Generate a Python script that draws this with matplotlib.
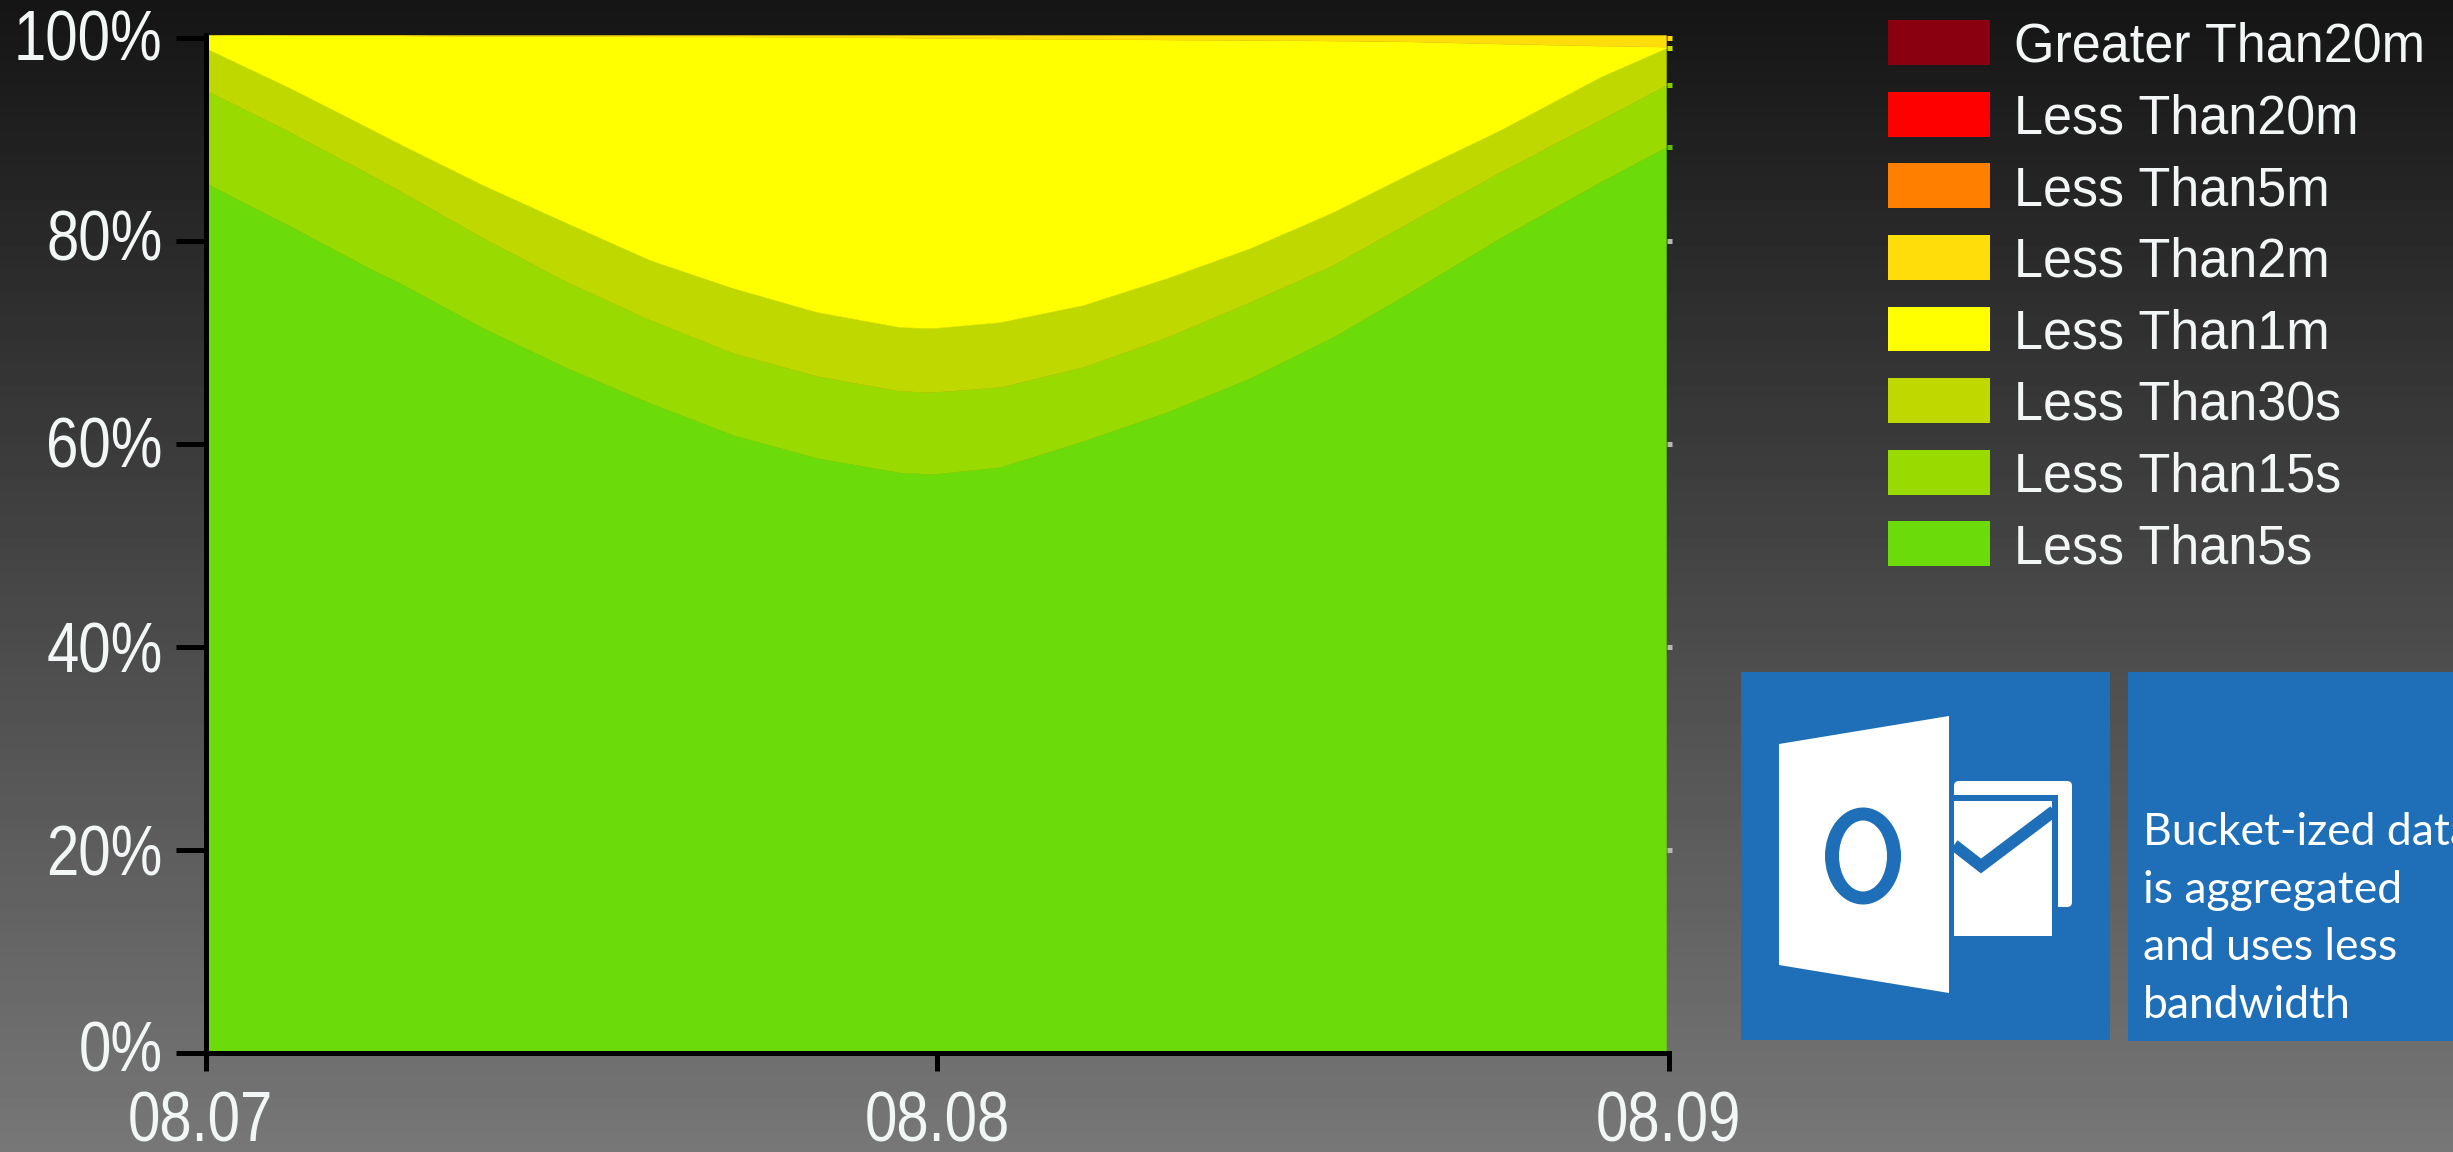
import numpy as np
import matplotlib
matplotlib.use("Agg")
import matplotlib.pyplot as plt
from matplotlib import font_manager as fm
from matplotlib.patches import Patch, Rectangle, Polygon, Ellipse, FancyBboxPatch
from matplotlib.transforms import ScaledTranslation
from fontTools.ttLib import TTFont

W, H, DPI = 2453, 1152, 100

# ---------- data ----------
dates = ["08.07", "08.08", "08.09"]
y_tick_labels = ["0%", "20%", "40%", "60%", "80%", "100%"]
series_names = ["Less Than5s", "Less Than15s", "Less Than30s", "Less Than1m",
                "Less Than2m", "Less Than5m", "Less Than20m", "Greater Than20m"]
series_colors = ["#6BDB0A", "#99DB00", "#BFD900", "#FFFF00",
                 "#FFDD0A", "#FF8000", "#FF0000", "#8B0011"]

x_days = [0.0, 0.1155, 0.2208, 0.2659, 0.3794, 0.4942, 0.6077, 0.7211, 0.8359, 0.9494,
          0.9945, 1.0861, 1.1996, 1.3144, 1.4279, 1.5413, 1.6562, 1.7696, 1.9063, 1.9966]
# cumulative upper edge of each band, percent
top_5s = [85.67, 81.43, 77.39, 75.81, 71.38, 67.44, 63.99, 60.84, 58.58, 57.14,
          57.00, 57.68, 60.25, 63.10, 66.45, 70.49, 75.32, 80.25, 85.76, 89.21]
top_15s = [94.83, 90.69, 86.65, 84.88, 80.25, 75.91, 72.17, 68.92, 66.65, 65.17,
           65.07, 65.57, 67.54, 70.49, 73.94, 77.59, 82.22, 86.75, 91.87, 95.32]
top_30s = [98.97, 95.03, 91.18, 89.51, 85.47, 81.72, 78.08, 75.32, 72.96, 71.48,
           71.38, 71.97, 73.65, 76.31, 79.26, 82.81, 86.95, 90.89, 96.11, 98.97]
top_1m = [100.25, 100.2, 100.2, 100.2, 100.15, 100.15, 100.1, 100.1, 100.05, 100.0,
          99.95, 99.9, 99.85, 99.8, 99.75, 99.7, 99.6, 99.4, 99.2, 99.1]
top_2m = [100.25] * 20
top_5m = [100.25] * 20
top_20m = [100.25] * 20
top_over20m = [100.25] * 20

tile_lines = ["Bucket-ized data", "is aggregated", "and uses less", "bandwidth"]


def narrowed_font(scale, family):
    """Write a horizontally condensed copy of Liberation Sans and register it."""
    src = fm.findfont("Liberation Sans")
    font = TTFont(src)
    glyf = font["glyf"]
    hmtx = font["hmtx"]
    for name in font.getGlyphOrder():
        g = glyf[name]
        if g.isComposite():
            for c in g.components:
                c.x = int(round(c.x * scale))
        elif g.numberOfContours > 0:
            coords = g.coordinates
            for i in range(len(coords)):
                coords[i] = (int(round(coords[i][0] * scale)), coords[i][1])
        adv, lsb = hmtx.metrics[name]
        hmtx.metrics[name] = (int(round(adv * scale)), int(round(lsb * scale)))
    for g_name in font.getGlyphOrder():
        glyf[g_name].recalcBounds(glyf)
    for tag in ("fpgm", "prep", "cvt ", "kern", "GPOS", "GSUB", "hdmx", "VDMX", "LTSH"):
        if tag in font:
            del font[tag]
    for rec in font["name"].names:
        if rec.nameID in (1, 4, 16):
            rec.string = family
    path = family.replace(" ", "") + ".ttf"
    font.save(path)
    fm.fontManager.addfont(path)
    return family


try:
    TICK_FONT = narrowed_font(0.83, "Tick Narrow")
    LEGEND_FONT = narrowed_font(0.93, "Legend Narrow")
except Exception:
    TICK_FONT = LEGEND_FONT = "Liberation Sans"


def box(x0, y0, x1, y1):
    return [x0 / W, 1 - y1 / H, (x1 - x0) / W, (y1 - y0) / H]


fig = plt.figure(figsize=(W / DPI, H / DPI), dpi=DPI)

# background gradient
bg = fig.add_axes([0, 0, 1, 1], zorder=0)
bg.imshow(np.linspace(21, 119, 256).reshape(-1, 1), cmap="gray", vmin=0, vmax=255,
          aspect="auto", extent=[0, 1, 0, 1], interpolation="bilinear")
bg.axis("off")

# main chart
TOP = 35.0
BOTTOM = 1052.5
ax = fig.add_axes(box(205.5, TOP, 1668.5, BOTTOM), zorder=2)
ax.patch.set_alpha(0)
tops = np.array([top_5s, top_15s, top_30s, top_1m, top_2m, top_5m, top_20m, top_over20m])
bands = np.vstack([tops[0], np.diff(tops, axis=0)])
polys = ax.stackplot(x_days, bands, colors=series_colors, labels=series_names,
                     linewidth=0.3, edgecolor="face")
for p in polys[5:]:
    p.set_edgecolor("none")
    p.set_linewidth(0)
ax.set_xlim(0, 2)
ax.set_ylim(0, 100.25)

for s in ("top", "right"):
    ax.spines[s].set_visible(False)
for s in ("left", "bottom"):
    ax.spines[s].set_linewidth(5 * 72 / DPI)
    ax.spines[s].set_color("black")
    ax.spines[s].set_zorder(5)

LABEL = "#F3F6F6"
ax.set_xticks([0, 1, 2], dates, fontsize=50.4, color=LABEL, family=TICK_FONT)
ax.set_yticks([0, 20, 40, 60, 80, 100], y_tick_labels, fontsize=50.4, color=LABEL, family=TICK_FONT)
ax.tick_params(axis="x", length=17.5 * 72 / DPI, width=5 * 72 / DPI, color="black", pad=15)
ax.tick_params(axis="y", length=30 * 72 / DPI, width=5 * 72 / DPI, color="black", pad=9.4)
y_label_shift = [7, 0, 0, 2, 6, 2.5]
for lab, dy in zip(ax.get_yticklabels(), y_label_shift):
    lab.set_transform(lab.get_transform() + ScaledTranslation(0, dy / DPI, fig.dpi_scale_trans))
x_label_shift = [-5, 0, 0]
for lab, dx in zip(ax.get_xticklabels(), x_label_shift):
    lab.set_transform(lab.get_transform() + ScaledTranslation(dx / DPI, 0, fig.dpi_scale_trans))

# small end marks to the right of the plot
mark_kw = dict(marker="_", ms=5 * 72 / DPI, mew=5 * 72 / DPI, clip_on=False, ls="none", zorder=6)
for v in (20, 40, 60, 80):
    ax.plot([2], [v], color="#B8B8B8", **mark_kw)
ax.plot([2], [top_5s[-1]], color="#5CC010", **mark_kw)
ax.plot([2], [top_15s[-1]], color="#88CC00", **mark_kw)
ax.plot([2], [top_30s[-1]], color="#C8E000", **mark_kw)
ax.plot([2], [99.95], color="#FFDD0A", **mark_kw)

# legend
handles = [Patch(facecolor=c, edgecolor="none") for c in series_colors[::-1]]
FS = 40.3
FS_PX = FS * DPI / 72
leg = fig.legend(handles, series_names[::-1], loc="upper left",
                 bbox_to_anchor=(1888 / W, 1 - 20 / H), borderaxespad=0, borderpad=0,
                 frameon=False, handlelength=102 / FS_PX, handleheight=48 / FS_PX,
                 handletextpad=24 / FS_PX, labelspacing=17.8 / FS_PX,
                 prop={"family": LEGEND_FONT, "size": FS})
for t in leg.get_texts():
    t.set_color(LABEL)

# overlay in pixel coordinates for the two tiles
ov = fig.add_axes([0, 0, 1, 1], zorder=3)
ov.set_xlim(0, W)
ov.set_ylim(H, 0)
ov.axis("off")
BLUE = "#1E6FB8"
ov.add_patch(Rectangle((1741, 672), 369, 368, fc=BLUE, ec="none"))
ov.add_patch(Rectangle((2128, 672), 325, 369, fc=BLUE, ec="none"))
# envelope
ov.add_patch(FancyBboxPatch((1954, 781), 118, 126, boxstyle="round,pad=0,rounding_size=5",
                            fc="white", ec="none"))
ov.add_patch(Rectangle((1954, 795), 104, 144, fc=BLUE, ec="none"))
ov.add_patch(Rectangle((1954, 801), 98, 135, fc="white", ec="none"))
ov.plot([1954, 1981, 2054], [845, 866, 811], color=BLUE, lw=8.5, solid_joinstyle="miter",
        solid_capstyle="butt")
# door with the letter
ov.add_patch(Polygon([(1779, 744), (1949, 716), (1949, 993), (1779, 965)], fc="white", ec="none"))
ov.add_patch(Ellipse((1863, 856), 76, 97, fc=BLUE, ec="none"))
ov.add_patch(Ellipse((1863, 856), 48, 71, fc="white", ec="none"))
# caption
for line, base in zip(tile_lines, (845, 903, 960, 1018)):
    ov.text(2143, base, line, color="white", fontsize=32, family="Lato", va="baseline", ha="left")

fig.savefig("out.png", dpi=DPI)
